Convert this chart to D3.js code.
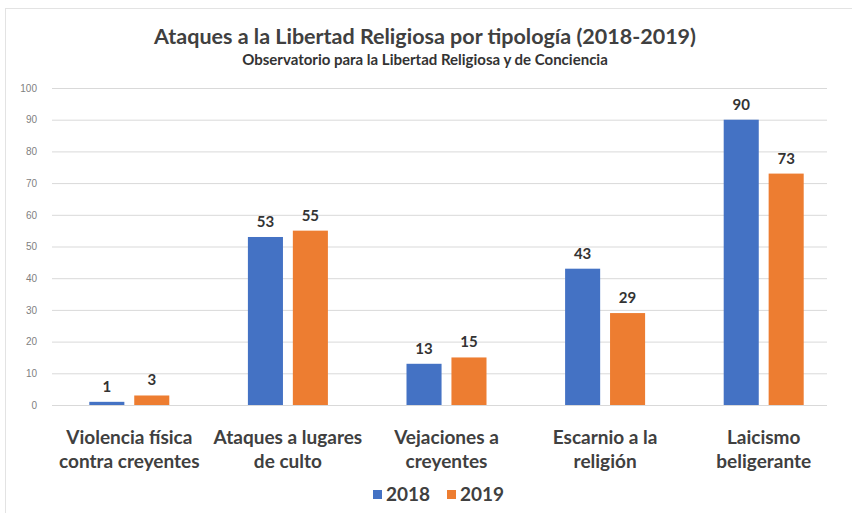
<!DOCTYPE html>
<html>
<head>
<meta charset="utf-8">
<script src="https://cdn.jsdelivr.net/npm/d3@7"></script>
<style>
  html, body { margin: 0; padding: 0; background: #fff; }
  svg { display: block; font-family: Lato, "Open Sans", sans-serif; }
</style>
</head>
<body>
<svg id="chart" width="852" height="513"></svg>
<script>
const categories = [
  ["Violencia física", "contra creyentes"],
  ["Ataques a lugares", "de culto"],
  ["Vejaciones a", "creyentes"],
  ["Escarnio a la", "religión"],
  ["Laicismo", "beligerante"]
];
const seriesNames = ["2018", "2019"];
const values2018 = [1, 53, 13, 43, 90];
const values2019 = [3, 55, 15, 29, 73];
const yTicks = [0, 10, 20, 30, 40, 50, 60, 70, 80, 90, 100];
const title = "Ataques a la Libertad Religiosa por tipología (2018-2019)";
const subtitle = "Observatorio para la Libertad Religiosa y de Conciencia";

const colors = { "2018": "#4472C4", "2019": "#ED7D31" };
const svg = d3.select("#chart");

// frame
svg.append("rect").attr("x", 5.5).attr("y", 8.5).attr("width", 852).attr("height", 520)
  .attr("fill", "none").attr("stroke", "#e3e3e3");

const catKeys = categories.map((c, i) => i);
const x0 = d3.scaleBand().domain(catKeys).range([50, 843]).paddingInner(0).paddingOuter(0);
const x1 = d3.scaleBand().domain(seriesNames).range([0, 80]).paddingInner(0.22);
const y = d3.scaleLinear().domain([0, 100]).range([405, 88]);

// grid
const axis = d3.axisLeft(y).tickValues(yTicks).tickSize(-(827 - 52)).tickPadding(14);
const g = svg.append("g").attr("transform", "translate(52,0)").call(axis);
g.select(".domain").remove();
g.selectAll(".tick line").attr("stroke", "#d9d9d9").attr("stroke-width", 1);
g.selectAll(".tick text").attr("fill", "#7f7f7f").style("font-size", "10px").attr("x", -15);

const data = categories.map((c, i) => ({ i, vals: [
  { s: "2018", v: values2018[i] }, { s: "2019", v: values2019[i] }
]}));

const groups = svg.append("g").selectAll("g").data(data).join("g")
  .attr("transform", d => `translate(${x0(d.i) + x0.bandwidth() / 2 - 40},0)`);

groups.selectAll("rect").data(d => d.vals).join("rect")
  .attr("x", d => x1(d.s)).attr("width", x1.bandwidth())
  .attr("y", d => y(d.v)).attr("height", d => y(0) - y(d.v))
  .attr("fill", d => colors[d.s]);

groups.selectAll("text.val").data(d => d.vals).join("text").attr("class", "val")
  .attr("x", d => x1(d.s) + x1.bandwidth() / 2).attr("y", d => y(d.v) - 10)
  .attr("text-anchor", "middle").attr("fill", "#333")
  .style("font-size", "15px").style("font-weight", "bold").text(d => d.v);

// x labels
const xl = svg.append("g").selectAll("text").data(categories).join("text")
  .attr("text-anchor", "middle").attr("fill", "#404040")
  .style("font-size", "19px").style("font-weight", "bold")
  .attr("transform", (d, i) => `translate(${x0(i) + x0.bandwidth() / 2},0)`);
xl.selectAll("tspan").data(d => d).join("tspan")
  .attr("x", 0).attr("y", (d, k) => 444 + k * 24).text(d => d);

// title
svg.append("text").attr("x", 425).attr("y", 44).attr("text-anchor", "middle")
  .attr("fill", "#404040").style("font-size", "21.5px").style("font-weight", "bold").text(title);
svg.append("text").attr("x", 425).attr("y", 65).attr("text-anchor", "middle")
  .attr("fill", "#333").style("font-size", "15px").style("font-weight", "bold").text(subtitle);

// legend
const legend = svg.append("g").selectAll("g").data(seriesNames).join("g")
  .attr("transform", (d, i) => `translate(${373 + i * 74},0)`);
legend.append("rect").attr("x", 0).attr("y", 490).attr("width", 9).attr("height", 9)
  .attr("fill", d => colors[d]);
legend.append("text").attr("x", 13).attr("y", 501).attr("fill", "#404040")
  .style("font-size", "19px").style("font-weight", "bold").text(d => d);
</script>
</body>
</html>
